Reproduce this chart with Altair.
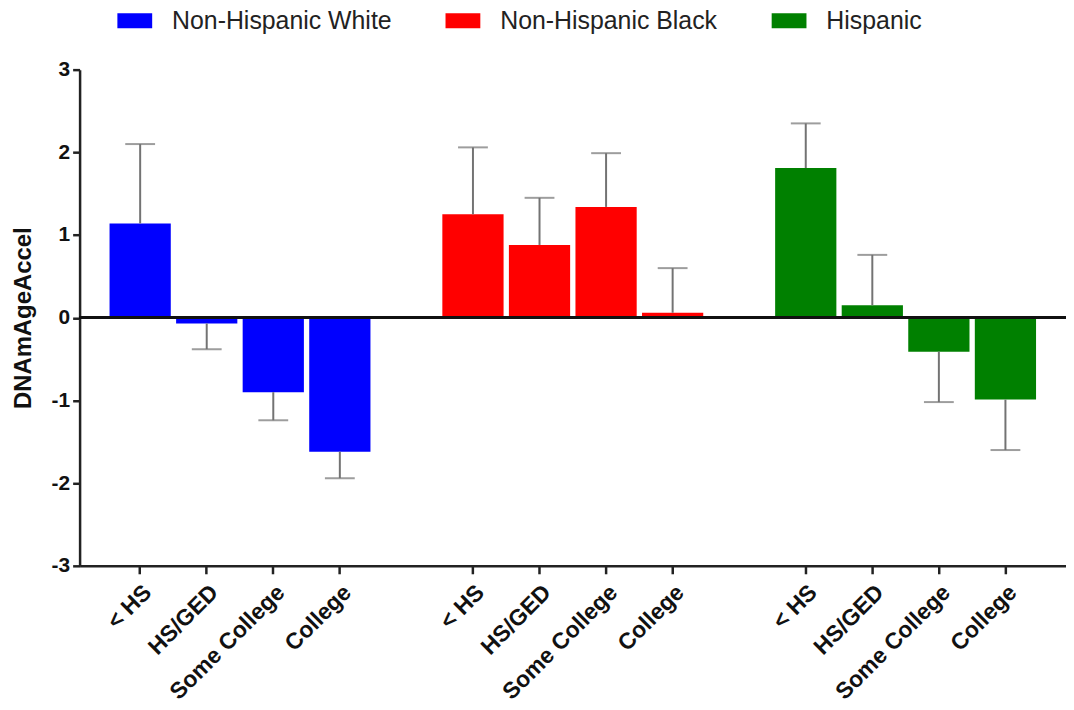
import altair as alt
import pandas as pd

groups = ["Non-Hispanic White", "Non-Hispanic Black", "Hispanic"]
levels = ["< HS", "HS/GED", "Some College", "College"]
white_vals = [1.14, -0.07, -0.90, -1.62]
white_err = [2.10, -0.38, -1.24, -1.94]
black_vals = [1.25, 0.88, 1.34, 0.06]
black_err = [2.06, 1.45, 1.99, 0.60]
hisp_vals = [1.81, 0.15, -0.41, -0.99]
hisp_err = [2.35, 0.76, -1.02, -1.60]
y_ticks = [-3, -2, -1, 0, 1, 2, 3]
colors = ["#0000FF", "#FF0000", "#008000"]

rows = []
for g, vals, errs, key in [(groups[0], white_vals, white_err, "W"),
                           (groups[1], black_vals, black_err, "B"),
                           (groups[2], hisp_vals, hisp_err, "H")]:
    for lv, v, e in zip(levels, vals, errs):
        rows.append({"slot": key + "|" + lv, "group": g, "level": lv,
                     "value": v, "err": e})
df = pd.DataFrame(rows)

real_slots = [r["slot"] for r in rows]
domain = real_slots[0:4] + ["gap1"] + real_slots[4:8] + ["gap2"] + real_slots[8:12]

font = "Liberation Sans"

x = alt.X("slot:N", scale=alt.Scale(domain=domain, paddingInner=0.08, paddingOuter=0.45),
          axis=alt.Axis(title=None, values=real_slots,
                        labelExpr="split(datum.value, '|')[1]",
                        labelAngle=-45, labelAlign="right", labelBaseline="top",
                        labelFont=font, labelFontSize=23, labelFontWeight="bold",
                        labelColor="#111", labelPadding=7,
                        domainColor="#222", domainWidth=2.5, grid=False,
                        tickColor="#222", tickWidth=2.5, tickSize=8))
y_scale = alt.Scale(domain=[-3, 3], nice=False, zero=False)

bars = alt.Chart(df).mark_bar().encode(
    x=x,
    y=alt.Y("value:Q", scale=y_scale,
            axis=alt.Axis(title="DNAmAgeAccel", values=y_ticks,
                          labelExpr="'' + datum.value",
                          grid=False, labelFont=font, labelFontSize=21,
                          labelFontWeight="bold", labelColor="#111", labelPadding=3,
                          titleFont=font, titleFontSize=24, titleFontWeight="bold",
                          titleColor="#111", titleX=-44,
                          domainColor="#222", domainWidth=2.5,
                          tickColor="#222", tickWidth=2.5, tickSize=7)),
    y2=alt.datum(0),
    color=alt.Color("group:N", scale=alt.Scale(domain=groups, range=colors),
                    legend=alt.Legend(title=None, orient="none", direction="horizontal",
                                      legendX=38, legendY=-67,
                                      symbolType="M-1,-0.43H1V0.43H-1Z",
                                      symbolSize=1225, symbolStrokeWidth=0,
                                      labelFont=font, labelFontSize=25,
                                      labelColor="#222", labelOffset=20,
                                      columnPadding=54, labelLimit=400)),
)

err_rule = alt.Chart(df).mark_rule(color="#737373", strokeWidth=2).encode(
    x=alt.X("slot:N"), y=alt.Y("value:Q"), y2=alt.Y2("err:Q"))
err_cap = alt.Chart(df).mark_tick(color="#737373", thickness=2, size=30).encode(
    x=alt.X("slot:N"), y=alt.Y("err:Q"))
zero = alt.Chart(df).mark_rule(color="#111", strokeWidth=2.5).encode(y=alt.datum(0))

chart = alt.layer(bars, err_rule, err_cap, zero).properties(
    width=992, height=499,
    background="white",
    autosize=alt.AutoSizeParams(type="none"),
    padding={"left": 72, "top": 60, "right": 0, "bottom": 142},
).configure_view(stroke=None, strokeWidth=0).configure_axis(grid=False)

chart.save("out.html", embed_options={"renderer": "svg", "actions": False})
